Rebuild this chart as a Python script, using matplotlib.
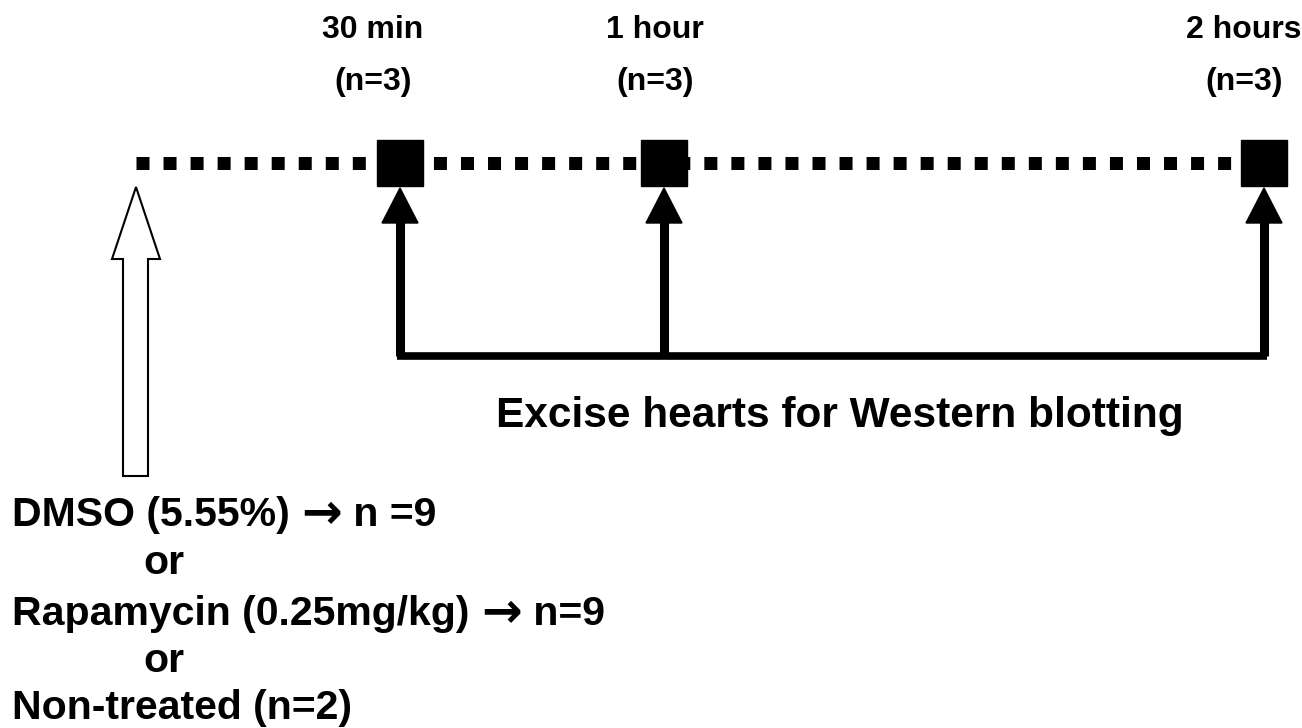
import matplotlib
matplotlib.use("Agg")
import matplotlib.pyplot as plt
from matplotlib.patches import Polygon

# timeline layout (pixel-like units, y grows downward)
line_start = 136
line_end = 1262
line_y = 163

timepoint_labels = ["30 min", "1 hour", "2 hours"]
timepoint_n = ["(n=3)", "(n=3)", "(n=3)"]
timepoint_x = [400, 664, 1264]
label_x = [373, 655, 1244]

bracket_y = 356
excise_text = "Excise hearts for Western blotting"

# each line split in pieces so the arrow can use a heavier glyph
treatment_lines = [
    ["DMSO (5.55%) ", "\u2192", " n =9"],
    ["or"],
    ["Rapamycin (0.25mg/kg) ", "\u2192", " n=9"],
    ["or"],
    ["Non-treated (n=2)"],
]
treatment_indent = [12, 143, 12, 143, 12]
treatment_baseline = [526, 574, 625, 672, 719]

plt.rcParams['font.family'] = ['Liberation Sans', 'DejaVu Sans']

fig = plt.figure(figsize=(13.02, 7.28), dpi=100)
ax = fig.add_axes([0, 0, 1, 1])
ax.set_xlim(0, 1302)
ax.set_ylim(728, 0)
ax.axis('off')

# dotted time line
lw_px = 13
ax.plot([line_start, line_end], [line_y, line_y], color='black',
        linewidth=lw_px * 0.72, dashes=(1.0, 1.08), solid_capstyle='butt',
        dash_capstyle='butt')

# sampling squares
ax.plot(timepoint_x, [line_y] * 3, linestyle='none', marker='s',
        markersize=33, color='black')

# filled arrows from the bracket to each sampling point
for x in timepoint_x:
    ax.plot([x, x], [bracket_y, 222], color='black', linewidth=6.5,
            solid_capstyle='butt')
    ax.add_patch(Polygon([[x - 18, 223], [x + 18, 223], [x, 188]],
                         closed=True, color='black'))
ax.plot([timepoint_x[0] - 3, timepoint_x[-1] + 3], [bracket_y, bracket_y],
        color='black', linewidth=5.5, solid_capstyle='butt')

# hollow injection arrow
ax.add_patch(Polygon([[123, 476], [148, 476], [148, 259], [160, 259],
                      [136, 187], [112, 259], [123, 259]],
                     closed=True, facecolor='white', edgecolor='black',
                     linewidth=1.5))

# labels
for lx, lab, n in zip(label_x, timepoint_labels, timepoint_n):
    ax.text(lx, 30, lab, ha='center', va='center', fontsize=23,
            fontweight='bold')
    ax.text(lx, 82, n, ha='center', va='center', fontsize=23,
            fontweight='bold')

ax.text(840, 416, excise_text, ha='center', va='center', fontsize=30.5,
        fontweight='bold')

renderer = fig.canvas.get_renderer()
inv = ax.transData.inverted()
for pieces, x, y in zip(treatment_lines, treatment_indent, treatment_baseline):
    cx = x
    for p in pieces:
        if p == "\u2192":
            t = ax.text(cx, y + 2, p, ha='left', va='baseline', fontsize=35,
                        fontweight='bold', family=['DejaVu Sans'])
        else:
            t = ax.text(cx, y, p, ha='left', va='baseline', fontsize=29.5,
                        fontweight='bold')
        bb = t.get_window_extent(renderer=renderer)
        cx = inv.transform((bb.x1, bb.y0))[0]

fig.savefig("out.png", dpi=100)
